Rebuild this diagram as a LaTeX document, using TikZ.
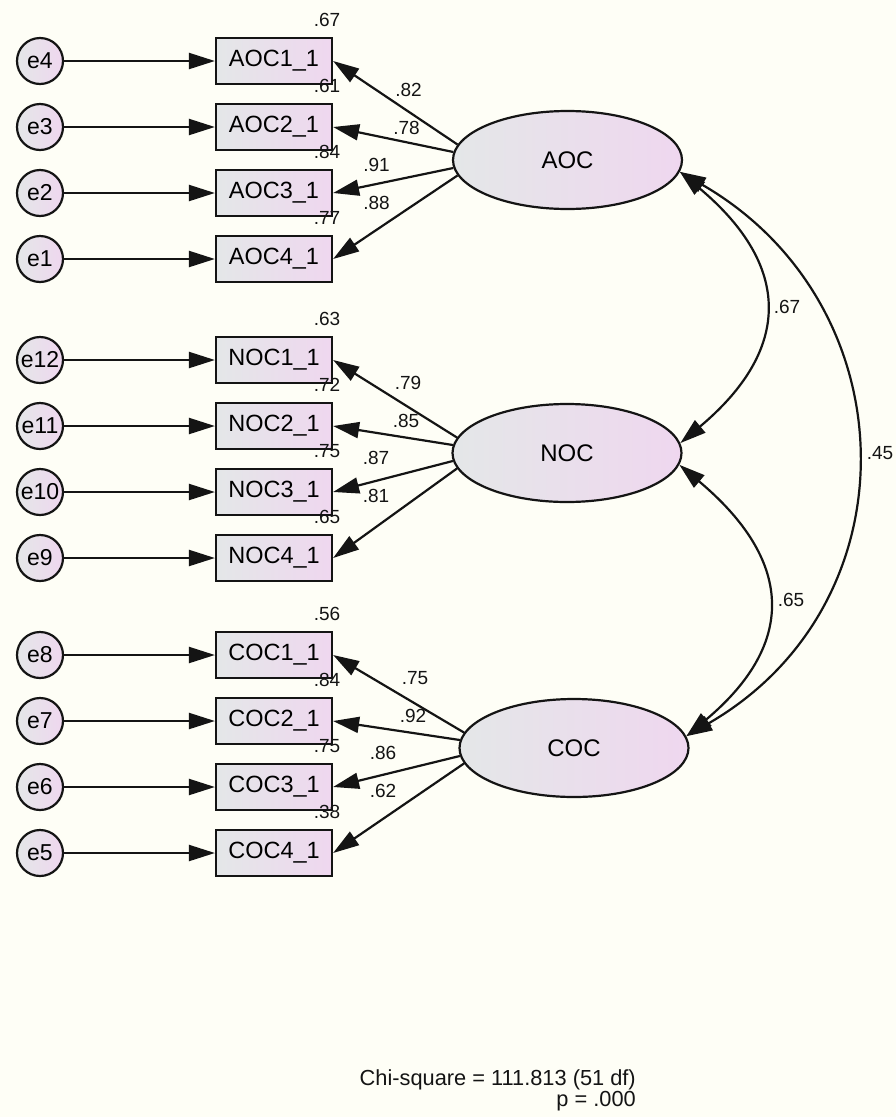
\documentclass[tikz,border=0pt]{standalone}
\usepackage{fontspec}
\setmainfont{Liberation Sans}
\usetikzlibrary{arrows.meta,shapes.geometric,calc}

\definecolor{paper}{RGB}{254,254,246}
\definecolor{fillgray}{RGB}{228,231,232}
\definecolor{fillpink}{RGB}{239,215,239}
\definecolor{ink}{RGB}{20,20,20}

\tikzset{
    >={Triangle[length=26pt,width=16pt]},
    shade/.style={draw=ink, line width=2.2pt, left color=fillgray, right color=fillpink, inner sep=0pt},
    obs/.style={shade, minimum width=116pt, minimum height=46pt, font=\fontsize{23.5}{26}\selectfont},
    err/.style={shade, circle, minimum size=46pt, font=\fontsize{23}{26}\selectfont},
    lat/.style={shade, ellipse, minimum width=229pt, minimum height=98pt, font=\fontsize{24}{26}\selectfont},
    link/.style={->, draw=ink, line width=2.2pt},
    cov/.style={<->, draw=ink, line width=2.2pt},
    coef/.style={text=ink, inner sep=0pt, font=\fontsize{19}{20}\selectfont},
}

\begin{document}
\begin{tikzpicture}[x=1pt, y=-1pt]
    % paper
    \fill[paper] (0,0) rectangle (896,1117);
    \useasboundingbox (0,0) rectangle (896,1117);

    % draw latent factors
    \node[lat] (AOC) at (567.5,160) {AOC};
    \node[lat] (NOC) at (567,453) {NOC};
    \node[lat] (COC) at (574,748) {COC};

    % draw indicators, errors and loadings
    \foreach \f/\i/\y/\en/\rsq/\ld in {
        AOC/1/61/e4/.67/.82, AOC/2/127/e3/.61/.78, AOC/3/193/e2/.84/.91, AOC/4/259/e1/.77/.88,
        NOC/1/360/e12/.63/.79, NOC/2/426/e11/.72/.85, NOC/3/492/e10/.75/.87, NOC/4/558/e9/.65/.81,
        COC/1/655/e8/.56/.75, COC/2/721/e7/.84/.92, COC/3/787/e6/.75/.86, COC/4/853/e5/.38/.62}
    {
        \pgfmathsetmacro\dx{{-159,-161,-191,-191}[\i-1]}
        \pgfmathsetmacro\dy{{-70,-32,5,43}[\i-1]}
        \pgfmathtruncatemacro\ang{{172,176,184,188}[\i-1]}
        \node[obs] (\f\i) at (274,\y) {\f\i\_1};
        \node[err] (\en) at (40,\y) {\en};
        \draw[link] (\en) -- (\f\i);
        \draw[link] (\f.\ang) -- (\f\i.east);
        \node[coef] (r\f\i) at ([xshift=-6pt,yshift=17pt]\f\i.north east) {\rsq};
        \node[coef] (l\f\i) at ($(\f)+(\dx,\dy)$) {\ld};
    }

    % draw covariances
    \draw[cov] (AOC.-6) to[out=-40, in=40, looseness=1.38] (NOC.5);
    \draw[cov] (NOC.-6) to[out=-40, in=40, looseness=1.38] (COC.6);
    \draw[cov] (AOC.-6) to[out=-30, in=30, looseness=1.2] (COC.6);
    \node[coef] (cAN) at (787,307) {.67};
    \node[coef] (cNC) at (791,600) {.65};
    \node[coef] (cAC) at (880,453) {.45};

    % fit
    \node[text=ink, anchor=east, align=right, inner sep=0pt, font=\fontsize{21.8}{21}\selectfont]
        (chi) at (636,1090) {Chi-square = 111.813 (51 df)\\p = .000};
\end{tikzpicture}
\end{document}
